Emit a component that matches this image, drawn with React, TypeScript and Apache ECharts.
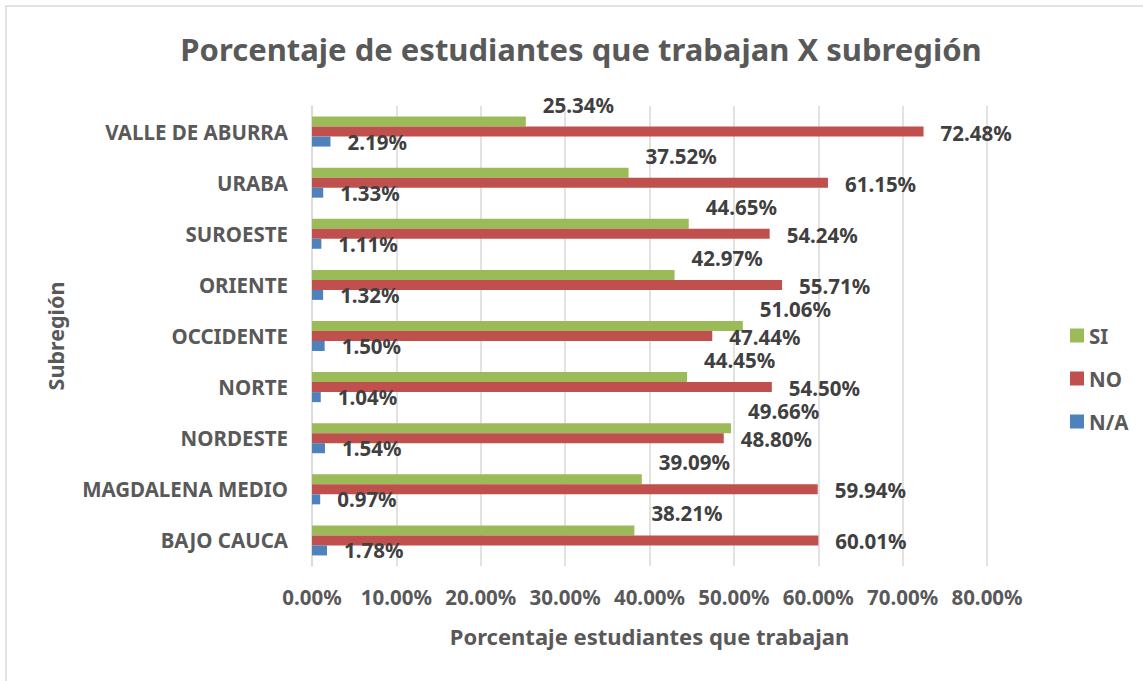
import React, { useEffect, useRef } from "react";
import * as echarts from "echarts";

const categories = [
  "BAJO CAUCA",
  "MAGDALENA MEDIO",
  "NORDESTE",
  "NORTE",
  "OCCIDENTE",
  "ORIENTE",
  "SUROESTE",
  "URABA",
  "VALLE DE ABURRA",
];
const siValues = [38.21, 39.09, 49.66, 44.45, 51.06, 42.97, 44.65, 37.52, 25.34];
const noValues = [60.01, 59.94, 48.8, 54.5, 47.44, 55.71, 54.24, 61.15, 72.48];
const naValues = [1.78, 0.97, 1.54, 1.04, 1.5, 1.32, 1.11, 1.33, 2.19];
const legendNames = ["SI", "NO", "N/A"];

const FONT = "'Noto Sans', sans-serif";
const AXIS_TEXT = "#595959";
const LABEL_TEXT = "#404040";

export default function App() {
  const ref = useRef<HTMLDivElement>(null);
  useEffect(() => {
    if (!ref.current) return;
    const chart = echarts.init(ref.current, undefined, { renderer: "svg" });
    const pct = (v: number) => `${v.toFixed(2)}%`;
    const mkLabel = (dy: number) => ({
      show: true,
      position: "right" as const,
      distance: 17,
      offset: [0, dy],
      formatter: (p: any) => pct(p.value),
      fontFamily: FONT,
      fontWeight: "bold" as const,
      fontSize: 20.5,
      color: LABEL_TEXT,
    });
    chart.setOption({
      animation: false,
      backgroundColor: "#ffffff",
      textStyle: { fontFamily: FONT },
      title: {
        text: "Porcentaje de estudiantes que trabajan X subregión",
        left: 576,
        textAlign: "center",
        top: 28,
        textStyle: {
          fontFamily: FONT,
          fontWeight: "bold",
          fontSize: 31,
          color: AXIS_TEXT,
        },
      },
      graphic: [
        {
          type: "rect",
          shape: { x: 6, y: 6, width: 1200, height: 800 },
          style: { fill: "none", stroke: "#d9d9d9", lineWidth: 1.5 },
          silent: true,
        },
      ],
      legend: {
        data: legendNames,
        orient: "vertical",
        left: 1065,
        top: 320,
        itemWidth: 14,
        itemHeight: 14,
        itemGap: 22,
        icon: "rect",
        textStyle: {
          fontFamily: FONT,
          fontWeight: "bold",
          fontSize: 20.5,
          color: AXIS_TEXT,
        },
      },
      grid: { left: 312, right: 156, top: 106, bottom: 115, containLabel: false },
      xAxis: {
        type: "value",
        min: 0,
        max: 80,
        interval: 10,
        name: "Porcentaje estudiantes que trabajan",
        nameLocation: "middle",
        nameGap: 59,
        nameTextStyle: {
          fontFamily: FONT,
          fontWeight: "bold",
          fontSize: 22,
          color: AXIS_TEXT,
        },
        axisLine: { show: false },
        axisTick: { show: false },
        splitLine: { show: true, lineStyle: { color: "#d9d9d9", width: 1.5 } },
        axisLabel: {
          formatter: (v: number) => pct(v),
          fontFamily: FONT,
          fontWeight: "bold",
          fontSize: 20.5,
          color: AXIS_TEXT,
          margin: 20,
        },
      },
      yAxis: {
        type: "category",
        data: categories,
        name: "Subregión",
        nameLocation: "middle",
        nameGap: 246,
        nameRotate: 90,
        nameTextStyle: {
          fontFamily: FONT,
          fontWeight: "bold",
          fontSize: 21.5,
          color: AXIS_TEXT,
        },
        axisLine: { show: true, lineStyle: { color: "#d9d9d9", width: 1.5 } },
        axisTick: { show: false },
        axisLabel: {
          fontFamily: FONT,
          fontWeight: "bold",
          fontSize: 20.5,
          color: AXIS_TEXT,
          margin: 24,
        },
      },
      series: [
        {
          name: "SI",
          type: "bar",
          data: siValues,
          barWidth: 10,
          barGap: "0%",
          itemStyle: { color: "#9BBB59" },
          label: mkLabel(-17),
        },
        {
          name: "NO",
          type: "bar",
          data: noValues,
          barWidth: 10,
          barGap: "0%",
          itemStyle: { color: "#C0504D" },
          label: mkLabel(1),
        },
        {
          name: "N/A",
          type: "bar",
          data: naValues,
          barWidth: 10,
          barGap: "0%",
          itemStyle: { color: "#4F81BD" },
          label: mkLabel(0),
        },
      ],
    });
    return () => chart.dispose();
  }, []);
  return (
    <div
      ref={ref}
      style={{ position: "fixed", left: 0, top: 0, width: 1143, height: 681, background: "#fff" }}
    />
  );
}
